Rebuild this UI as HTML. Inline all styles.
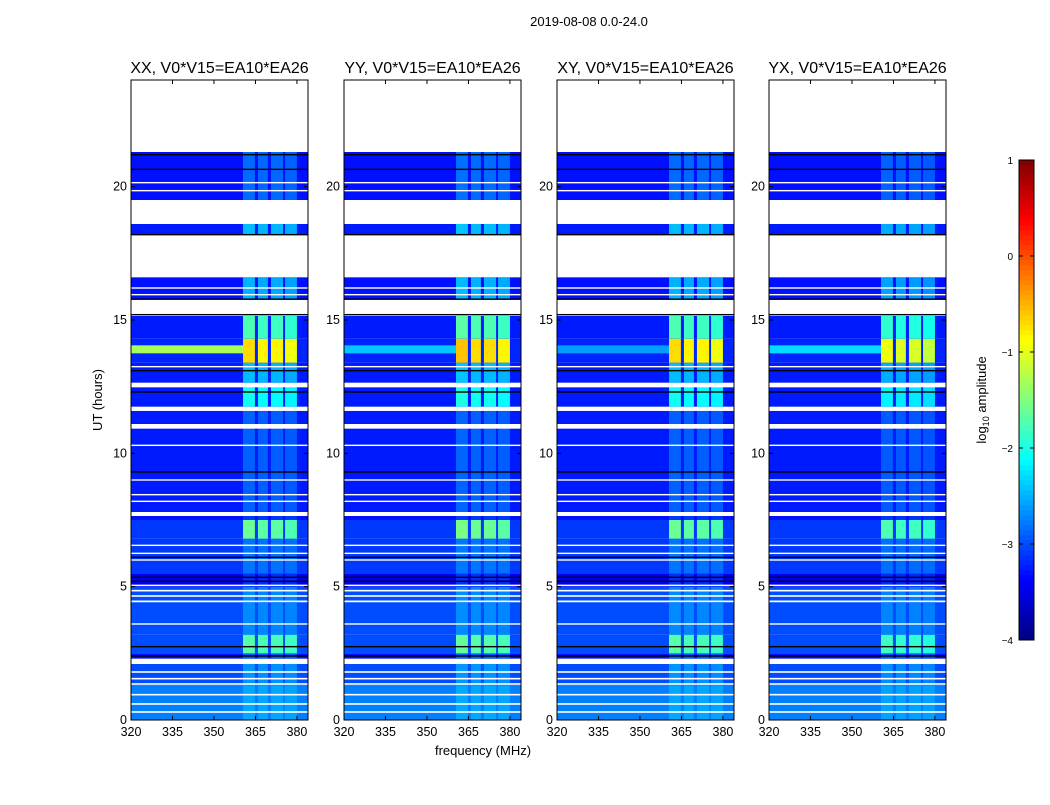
<!DOCTYPE html>
<html><head><meta charset="utf-8"><style>
body{margin:0;background:#fff;font-family:"Liberation Sans",sans-serif}
svg text{font-family:"Liberation Sans",sans-serif}
</style></head><body>
<svg id="fig" width="1050" height="800" xmlns="http://www.w3.org/2000/svg">
<rect width="1050" height="800" fill="#fff"/>
<text x="589" y="26" font-size="13" text-anchor="middle">2019-08-08 0.0-24.0</text>
<text x="483" y="755" font-size="13" text-anchor="middle">frequency (MHz)</text>
<text transform="translate(102,400) rotate(-90)" font-size="13" text-anchor="middle">UT (hours)</text>
<text transform="translate(986,400) rotate(-90)" font-size="13" text-anchor="middle">log<tspan font-size="9" dy="3">10</tspan><tspan dy="-3"> amplitude</tspan></text>
<g id="panels"></g>
<g id="cbar"></g>
</svg>
<script>
const panelTitles=["XX, V0*V15=EA10*EA26","YY, V0*V15=EA10*EA26","XY, V0*V15=EA10*EA26","YX, V0*V15=EA10*EA26"];
const panelLeft=[131,344,557,769];
const panelGain=[1.0,1.05,1.0,0.9];
const fullRowLevel=[-1.3,-2.4,-2.6,-2.3];
const segStart=[0,1.3,2.3,2.5,3.2,4.4,5.0,5.5,6.8,7.5,7.8,11.1,11.75,12.65,13.4,14.3,15.8,18.2,19.5];
const segEnd=[1.3,2.1,2.5,3.2,4.4,5.0,5.5,6.8,7.5,7.7,10.95,11.6,12.5,13.4,14.3,15.15,16.6,18.6,21.3];
const segBase=[-2.75,-3.0,-3.3,-3.0,-3.0,-3.0,-3.45,-3.1,-3.1,-3.3,-3.25,-3.25,-3.25,-3.25,-3.2,-3.25,-3.3,-3.25,-3.3];
const segAct=[0.2,0.35,0.4,1.3,0.3,0.3,0.3,0.3,1.5,0.2,0.35,0.35,1.2,0.8,2.5,1.5,0.8,0.8,0.45];
const chanStart=[360.5,365.9,370.6,375.7];
const chanEnd=[364.8,369.5,375.0,380.0];
const chanGain=[1.0,0.95,0.95,0.9];
const fullRowStart=[13.75];
const fullRowEnd=[14.05];
const whiteLines=[0.3,0.6,0.95,1.35,1.55,1.8,3.6,4.45,4.65,4.85,5.05,6.0,6.25,6.55,7.7,8.2,8.45,9.0,10.3,11.0,11.65,12.55,13.25,15.95,16.2,19.85,20.15];
const whiteWidth=[0.06,0.06,0.06,0.06,0.06,0.06,0.05,0.06,0.06,0.06,0.05,0.05,0.05,0.05,0.1,0.05,0.05,0.05,0.05,0.15,0.12,0.15,0.05,0.05,0.05,0.05,0.05];
const blackLines=[2.4,2.75,5.2,5.35,6.1,9.3,12.3,13.1,15.2,15.78,18.2,20.65,21.2];
const xTicks=[320,335,350,365,380];
const yTicks=[0,5,10,15,20];
const cbTicks=[1,0,-1,-2,-3,-4];
const NS="http://www.w3.org/2000/svg";
function jet(v){let t=(v+4)/5;t=Math.max(0,Math.min(1,t));
 const f=x=>Math.max(0,Math.min(1,x));
 const r=f(1.5-Math.abs(4*t-3)),g=f(1.5-Math.abs(4*t-2)),b=f(1.5-Math.abs(4*t-1));
 return `rgb(${Math.round(r*255)},${Math.round(g*255)},${Math.round(b*255)})`;}
function mk(tag,attrs,parent){const e=document.createElementNS(NS,tag);for(const k in attrs)e.setAttribute(k,attrs[k]);parent.appendChild(e);return e;}
const PT=80,PB=720,PW=177;
const yS=h=>PB-(PB-PT)*h/24;
const panels=document.getElementById('panels');
panelLeft.forEach((L,p)=>{
 const xS=f=>L+(f-320)*PW/64;
 const g=mk('g',{},panels);
 
 
 segStart.forEach((s,i)=>{
  const r=mk('rect',{x:L,y:yS(segEnd[i]),width:PW,height:yS(s)-yS(segEnd[i]),fill:jet(segBase[i])},g);
  
  
  chanStart.forEach((c,j)=>{
   const v=segBase[i]+segAct[i]*chanGain[j]*panelGain[p];
   const cr=mk('rect',{x:xS(c),y:yS(segEnd[i]),width:xS(chanEnd[j])-xS(c),height:yS(s)-yS(segEnd[i]),fill:jet(v)},g);
   
   
  });
 });
 fullRowStart.forEach((s,i)=>{
  const r=mk('rect',{x:L,y:yS(fullRowEnd[i]),width:xS(360.5)-L,height:yS(s)-yS(fullRowEnd[i]),fill:jet(fullRowLevel[p])},g);
  
  
 });
 blackLines.forEach(h=>{const r=mk('rect',{x:L,y:yS(h)-0.7,width:PW,height:1.4,fill:'#000'},g);
  
  });
 whiteLines.forEach((h,i)=>{const hh=Math.max(1.4,whiteWidth[i]*(PB-PT)/24);
  const r=mk('rect',{x:L,y:yS(h)-hh/2,width:PW,height:hh,fill:'#fff'},g);
  
  });
 const fr=mk('rect',{x:L,y:PT,width:PW,height:PB-PT,fill:'none',stroke:'#000','stroke-width':1},g);
 
 
 const t=mk('text',{x:L+PW/2,y:73,'font-size':16,'text-anchor':'middle'},g);t.textContent=panelTitles[p];
 
 
 xTicks.forEach(v=>{const x=xS(v);
  mk('line',{x1:x,x2:x,y1:PB,y2:PB-4,stroke:'#000'},g);mk('line',{x1:x,x2:x,y1:PT,y2:PT+4,stroke:'#000'},g);
  const tt=mk('text',{x:x,y:PB+16,'font-size':12.5,'text-anchor':'middle'},g);tt.textContent=v;
  
  });
 yTicks.forEach(v=>{const y=yS(v);
  mk('line',{x1:L,x2:L+4,y1:y,y2:y,stroke:'#000'},g);mk('line',{x1:L+PW,x2:L+PW-4,y1:y,y2:y,stroke:'#000'},g);
  const tt=mk('text',{x:L-4,y:y+4,'font-size':12.5,'text-anchor':'end'},g);tt.textContent=v;
  
  });
});
const cb=document.getElementById('cbar');


for(let i=0;i<96;i++){const v=-4+5*(i+0.5)/96;
 mk('rect',{x:1019,y:640-(i+1)*5,width:15,height:5.3,fill:jet(v)},cb);}
mk('rect',{x:1019,y:160,width:15,height:480,fill:'none',stroke:'#000'},cb);
cbTicks.forEach(v=>{const y=640-(v+4)*96;
 mk('line',{x1:1019,x2:1023,y1:y,y2:y,stroke:'#000'},cb);mk('line',{x1:1034,x2:1030,y1:y,y2:y,stroke:'#000'},cb);
 const tt=mk('text',{x:1013,y:y+4,'font-size':10,'text-anchor':'end'},cb);tt.textContent=(v<0?'\u2212'+(-v):v);
 
 });
</script>
</body></html>
